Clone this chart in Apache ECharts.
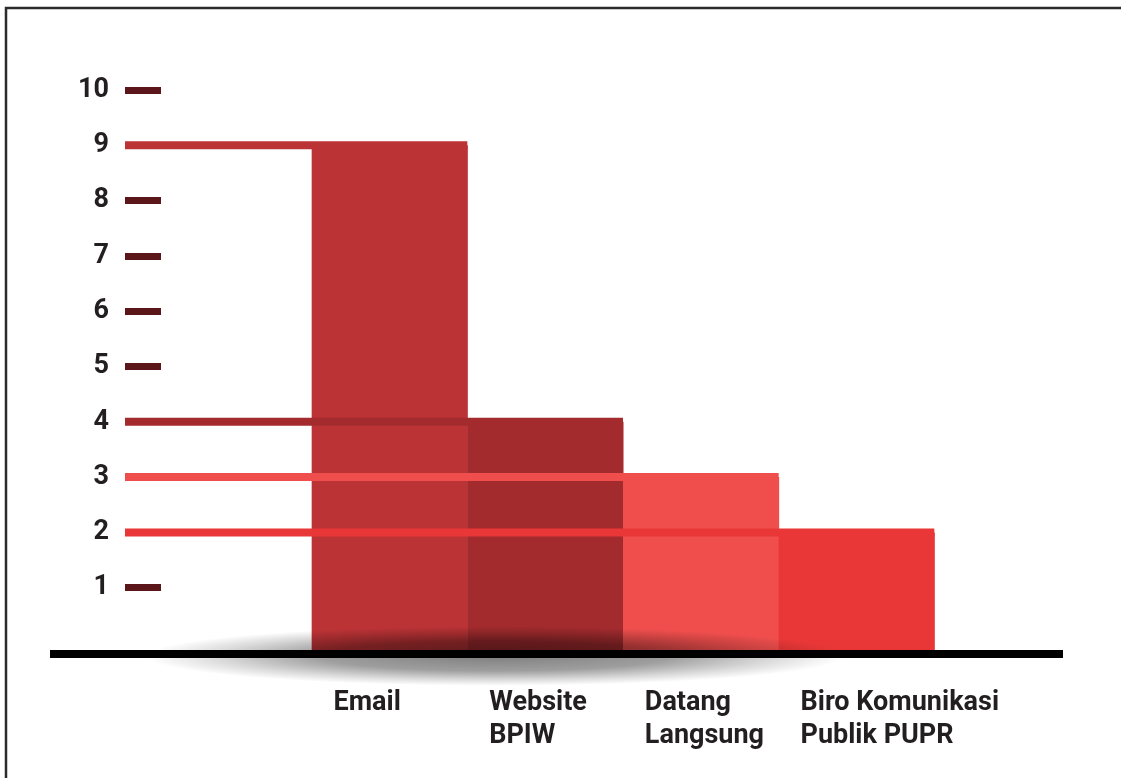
<!DOCTYPE html>
<html>
<head>
<meta charset="utf-8">
<script src="https://cdn.jsdelivr.net/npm/echarts@6/dist/echarts.min.js"></script>
<style>
  html, body { margin: 0; padding: 0; background: #ffffff; }
  #chart { width: 1121px; height: 778px; }
</style>
</head>
<body>
<div id="chart"></div>
<script>
// ---- data ----
const categories = ['Email', 'Website\nBPIW', 'Datang\nLangsung', 'Biro Komunikasi\nPublik PUPR'];
const values = [9, 4, 3, 2];
const barColors = ['#bc3336', '#a32b2e', '#ef4e4d', '#e93737'];
const yTicks = [1, 2, 3, 4, 5, 6, 7, 8, 9, 10];

// ---- layout ----
const FONT = 'Roboto, "DejaVu Sans", sans-serif';
const TEXT = '#231f20';
const paddedCats = [''].concat(categories, ['']);
const seriesData = values.map((v, i) => [i + 1, v]);
// dashes hidden under the value lines are not drawn
const dashTicks = yTicks.filter(t => values.indexOf(t) < 0);

const chart = echarts.init(document.getElementById('chart'), null, { renderer: 'canvas' });

const option = {
  animation: false,
  backgroundColor: '#ffffff',
  grid: [
    { left: 156, top: 90, bottom: 135, width: 934 },
    { left: 100, top: 90, bottom: 135, width: 934 }
  ],
  xAxis: [
    {
      type: 'category', gridIndex: 0, data: paddedCats,
      axisLine: { show: false }, axisTick: { show: false }, axisLabel: { show: false },
      splitLine: { show: false }
    },
    {
      type: 'category', gridIndex: 1, data: paddedCats,
      axisLine: { show: false }, axisTick: { show: false }, splitLine: { show: false },
      axisLabel: {
        show: true, interval: 0, align: 'left', margin: 44,
        fontFamily: FONT, fontWeight: 'bold', fontSize: 27, lineHeight: 33, color: TEXT
      }
    }
  ],
  yAxis: [
    {
      type: 'value', gridIndex: 0, min: 0, max: 10, interval: 1, offset: -5,
      axisLine: { show: false },
      splitLine: { show: false },
      axisTick: {
        show: true, inside: false, length: 36, customValues: dashTicks,
        lineStyle: { color: '#5b1619', width: 7, cap: 'butt' }
      },
      axisLabel: {
        show: true, margin: 52, customValues: yTicks,
        fontFamily: FONT, fontWeight: 'bold', fontSize: 27, color: TEXT
      }
    },
    { type: 'value', gridIndex: 1, min: 0, max: 10, show: false }
  ],
  series: [
    {
      type: 'custom', xAxisIndex: 0, yAxisIndex: 0, z: 2,
      data: seriesData,
      renderItem: function (params, api) {
        const p = api.coord([api.value(0), api.value(1)]);
        const base = api.coord([api.value(0), 0]);
        const w = api.size([1, 0])[0];
        return {
          type: 'rect',
          shape: { x: p[0] - w / 2, y: p[1], width: w + 0.5, height: base[1] - p[1] + 8 },
          style: { fill: barColors[params.dataIndex] }
        };
      }
    },
    {
      type: 'custom', xAxisIndex: 0, yAxisIndex: 0, z: 3,
      data: seriesData,
      renderItem: function (params, api) {
        const p = api.coord([api.value(0), api.value(1)]);
        const w = api.size([1, 0])[0];
        return {
          type: 'line',
          shape: { x1: params.coordSys.x - 31, y1: p[1], x2: p[0] + w / 2, y2: p[1] },
          style: { stroke: barColors[params.dataIndex], lineWidth: 8, lineCap: 'butt' }
        };
      }
    }
  ]
};

chart.setOption(option);

// decorations: baseline, soft shadow, frame
const zeroY = chart.convertToPixel({ gridIndex: 0 }, [0, 0])[1];
const lineY = zeroY + 11;
chart.setOption({
  graphic: [
    {
      type: 'circle', z: 4, silent: true,
      x: 495, y: lineY + 2, scaleY: 0.085,
      shape: { cx: 0, cy: 0, r: 350 },
      style: {
        fill: {
          type: 'radial', x: 0.5, y: 0.5, r: 0.5,
          colorStops: [
            { offset: 0, color: 'rgba(0,0,0,0.5)' },
            { offset: 0.5, color: 'rgba(0,0,0,0.38)' },
            { offset: 0.8, color: 'rgba(0,0,0,0.14)' },
            { offset: 1, color: 'rgba(0,0,0,0)' }
          ]
        }
      }
    },
    {
      type: 'line', z: 5, silent: true,
      shape: { x1: 50, y1: lineY, x2: 1063, y2: lineY },
      style: { stroke: '#000000', lineWidth: 8 }
    },
    {
      type: 'polyline', z: 5, silent: true,
      shape: { points: [[6, 778], [6, 8], [1121, 8]] },
      style: { stroke: '#2b2b2b', lineWidth: 2.5, fill: null }
    }
  ]
});
</script>
</body>
</html>
